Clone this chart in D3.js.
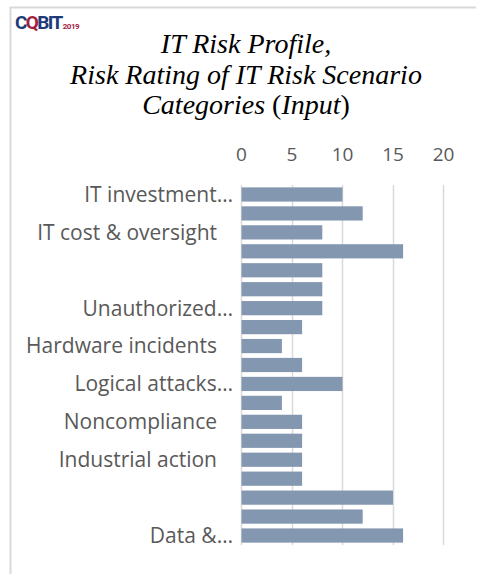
<!DOCTYPE html>
<html>
<head>
<meta charset="utf-8">
<script src="https://cdn.jsdelivr.net/npm/d3@7"></script>
<style>
  html, body { margin: 0; padding: 0; background: #fff; }
  svg { display: block; }
</style>
</head>
<body>
<div id="chart"></div>
<script>
// categories, one per bar, top to bottom (only every other one shows a label)
var categories = [
  "IT investment…", "c2", "IT cost & oversight", "c4", "", "c6",
  "Unauthorized…", "c8", "Hardware incidents", "c10", "Logical attacks…",
  "c12", "Noncompliance", "c14", "Industrial action", "c16", "", "c18",
  "Data &…"
];
var shownLabel = [true, false, true, false, true, false, true, false, true, false,
  true, false, true, false, true, false, true, false, true];
var ratings = [10, 12, 8, 16, 8, 8, 8, 6, 4, 6, 10, 4, 6, 6, 6, 6, 15, 12, 16];
var xTicks = [0, 5, 10, 15, 20];
var titleLines = ["IT Risk Profile,", "Risk Rating of IT Risk Scenario", "Categories"];

var width = 478, height = 574;
var svg = d3.select("#chart").append("svg")
  .attr("width", width)
  .attr("height", height);

// frame
svg.append("path")
  .attr("d", "M10.5," + height + "V7.5H" + (width - 2))
  .attr("fill", "none")
  .attr("stroke", "#d9d9d9")
  .attr("stroke-width", 2);

// logo
var logo = svg.append("text")
  .attr("x", 15)
  .attr("y", 29)
  .attr("font-family", "Roboto, 'Liberation Sans', sans-serif")
  .attr("font-weight", "bold")
  .attr("font-size", 19)
  .attr("letter-spacing", -1.6);
logo.append("tspan").attr("fill", "#1d3b78").text("C");
logo.append("tspan").attr("fill", "#a61e3f").text("Q");
logo.append("tspan").attr("fill", "#1d3b78").text("BIT");
logo.append("tspan").attr("fill", "#a61e3f").attr("font-size", 8).attr("dx", 1).attr("letter-spacing", -0.5).text("2019");

// title
var title = svg.append("text")
  .attr("text-anchor", "middle")
  .attr("font-family", "'Liberation Serif', 'Times New Roman', serif")
  .attr("font-size", 28)
  .attr("fill", "#000");
title.append("tspan").attr("x", 246).attr("y", 53).attr("font-style", "italic").text(titleLines[0]);
title.append("tspan").attr("x", 246).attr("y", 84).attr("font-style", "italic").text(titleLines[1]);
var l3 = title.append("tspan").attr("x", 246).attr("y", 114);
l3.append("tspan").attr("font-style", "italic").text(titleLines[2] + " ");
l3.append("tspan").text("(");
l3.append("tspan").attr("font-style", "italic").text("Input");
l3.append("tspan").text(")");

// scales
var x = d3.scaleLinear().domain([0, 20]).range([241, 443]);
var y = d3.scaleBand()
  .domain(d3.range(categories.length))
  .range([185, 545])
  .paddingInner(0.25)
  .paddingOuter(0.125);

// gridlines
svg.append("g")
  .selectAll("line")
  .data(xTicks)
  .join("line")
  .attr("x1", function (d) { return Math.round(x(d)) + 0.5; })
  .attr("x2", function (d) { return Math.round(x(d)) + 0.5; })
  .attr("y1", 185)
  .attr("y2", 545)
  .attr("stroke", "#d9d9d9")
  .attr("stroke-width", 1.5);

// top axis labels
var xAxis = svg.append("g")
  .attr("transform", "translate(0,144)")
  .call(d3.axisTop(x).tickValues(xTicks).tickSize(0).tickPadding(0));
xAxis.select(".domain").remove();
xAxis.selectAll("text")
  .attr("font-family", "'Open Sans', 'Noto Sans', sans-serif")
  .attr("font-size", 19)
  .attr("fill", "#595959")
  .attr("dy", "0.9em");

// bars
svg.append("g")
  .selectAll("rect")
  .data(ratings)
  .join("rect")
  .attr("x", x(0) + 0.5)
  .attr("y", function (d, i) { return y(i); })
  .attr("width", function (d) { return x(d) - x(0); })
  .attr("height", y.bandwidth())
  .attr("fill", "#8497b0");

// category labels
svg.append("g")
  .selectAll("text")
  .data(categories)
  .join("text")
  .filter(function (d, i) { return shownLabel[i]; })
  .attr("x", function (d) { return d.slice(-1) === "…" ? 233 : 217; })
  .attr("y", function (d) { return y(categories.indexOf(d)) + y.bandwidth() / 2; })
  .attr("dy", "0.35em")
  .attr("text-anchor", "end")
  .attr("font-family", "'Open Sans', 'Noto Sans', sans-serif")
  .attr("font-size", 21)
  .attr("fill", "#595959")
  .text(function (d) { return d; });
</script>
</body>
</html>
